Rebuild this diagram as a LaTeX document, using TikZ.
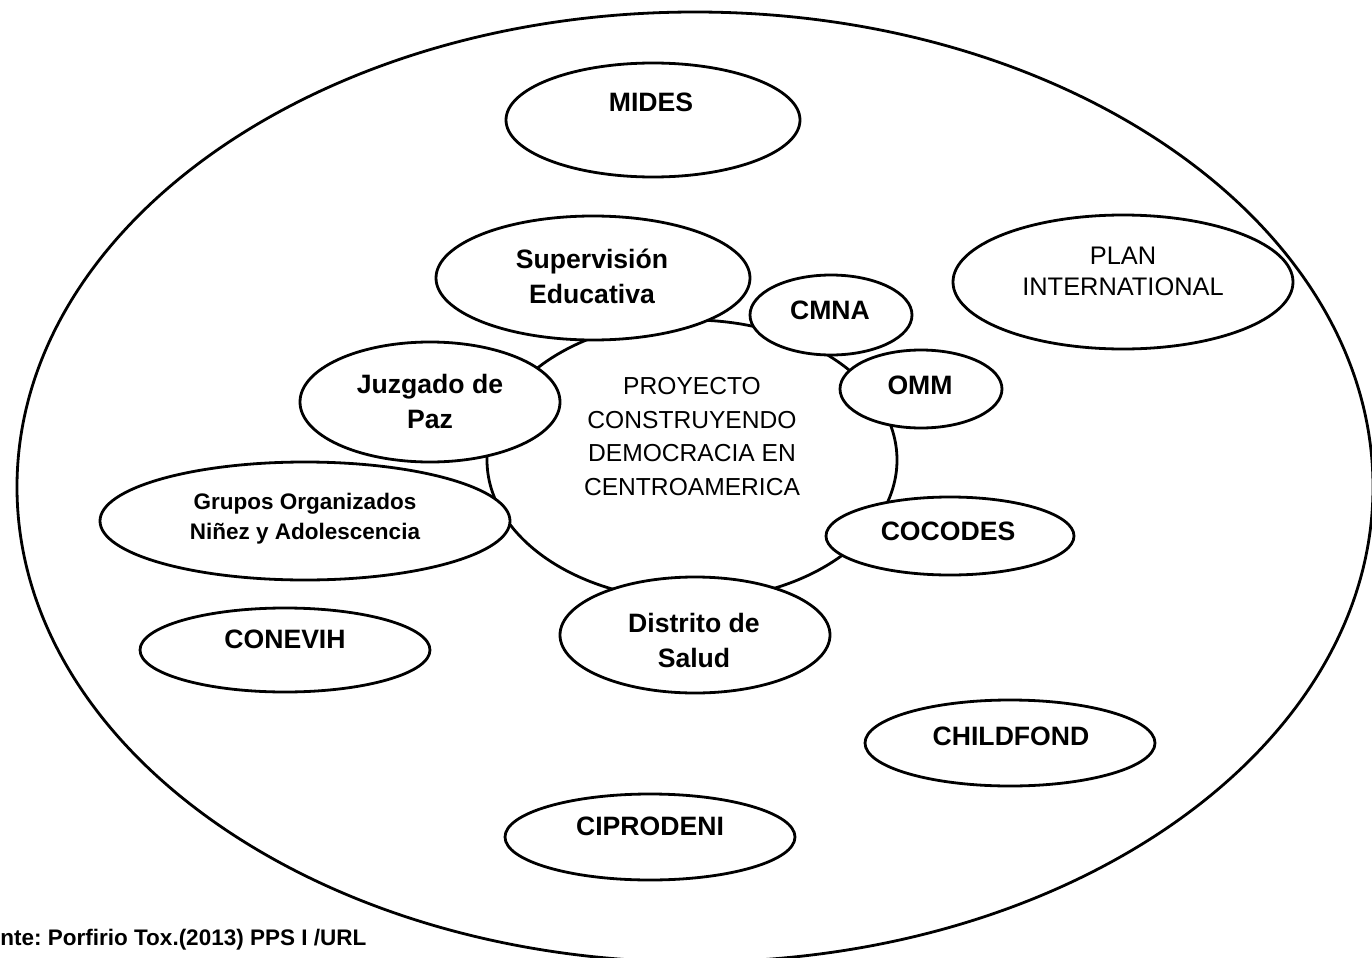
\documentclass[tikz,border=0pt]{standalone}
\usepackage{fontspec}
\setmainfont{Liberation Sans}
\usetikzlibrary{shapes.geometric}
\frenchspacing

\tikzset{
  org/.style={ellipse, draw, line width=1.4pt, fill=white, inner sep=0pt},
  orglbl/.style={anchor=north, inner sep=0pt, align=center,
    font=\bfseries\fontsize{13.3}{17.5}\selectfont},
  plainlbl/.style={anchor=north, inner sep=0pt, align=center,
    font=\fontsize{12.3}{16.75}\selectfont},
}

\begin{document}
\begin{tikzpicture}[x=0.5pt, y=-0.5pt]
  \useasboundingbox (0,0) rectangle (1372,958);
  % outer ring and project in the middle
  \node[org, minimum width=678pt, minimum height=475pt] (outer) at (695,487) {};
  \node[org, minimum width=205pt, minimum height=140pt] (proyecto) at (692,460) {};
  \node[plainlbl] (proyecto-txt) at (692,377) {PROYECTO\\CONSTRUYENDO\\DEMOCRACIA EN\\CENTROAMERICA};
  % institutions
  \node[org, minimum width=147pt, minimum height=57pt] (mides) at (653,120) {};
  \node[orglbl] (mides-txt) at (651,93) {MIDES};
  \node[org, minimum width=157pt, minimum height=62pt] (superv) at (593,278) {};
  \node[orglbl] (superv-txt) at (592,249) {Supervisión\\Educativa};
  \node[org, minimum width=81pt, minimum height=40pt] (cmna) at (831,315) {};
  \node[orglbl] (cmna-txt) at (830,301) {CMNA};
  \node[org, minimum width=170pt, minimum height=67pt] (plan) at (1123,282) {};
  \node[plainlbl, font=\fontsize{12.7}{15.5}\selectfont] (plan-txt) at (1123,247) {PLAN\\INTERNATIONAL};
  \node[org, minimum width=130pt, minimum height=60pt] (juzgado) at (430,402) {};
  \node[orglbl] (juzgado-txt) at (430,374) {Juzgado de\\Paz};
  \node[org, minimum width=81pt, minimum height=39pt] (omm) at (921,389) {};
  \node[orglbl] (omm-txt) at (920,376) {OMM};
  \node[org, minimum width=205pt, minimum height=59pt] (grupos) at (305,521) {};
  \node[orglbl, font=\bfseries\fontsize{11.25}{15}\selectfont] (grupos-txt) at (305,493) {Grupos Organizados\\Niñez y Adolescencia};
  \node[org, minimum width=124pt, minimum height=39pt] (cocodes) at (950,536) {};
  \node[orglbl] (cocodes-txt) at (948,522) {COCODES};
  \node[org, minimum width=135pt, minimum height=58pt] (distrito) at (695,635) {};
  \node[orglbl] (distrito-txt) at (694,613) {Distrito de\\Salud};
  \node[org, minimum width=145pt, minimum height=42pt] (conevih) at (285,650) {};
  \node[orglbl] (conevih-txt) at (285,630) {CONEVIH};
  \node[org, minimum width=145pt, minimum height=43pt] (childfond) at (1010,743) {};
  \node[orglbl] (childfond-txt) at (1011,727) {CHILDFOND};
  \node[org, minimum width=145pt, minimum height=43pt] (ciprodeni) at (650,837) {};
  \node[orglbl] (ciprodeni-txt) at (650,817) {CIPRODENI};
  % source line
  \node[anchor=north west, inner sep=0pt, font=\bfseries\fontsize{11.25}{13}\selectfont] (fuente) at (0,929) {nte: Porfirio Tox.(2013) PPS I /URL};
\end{tikzpicture}
\end{document}
